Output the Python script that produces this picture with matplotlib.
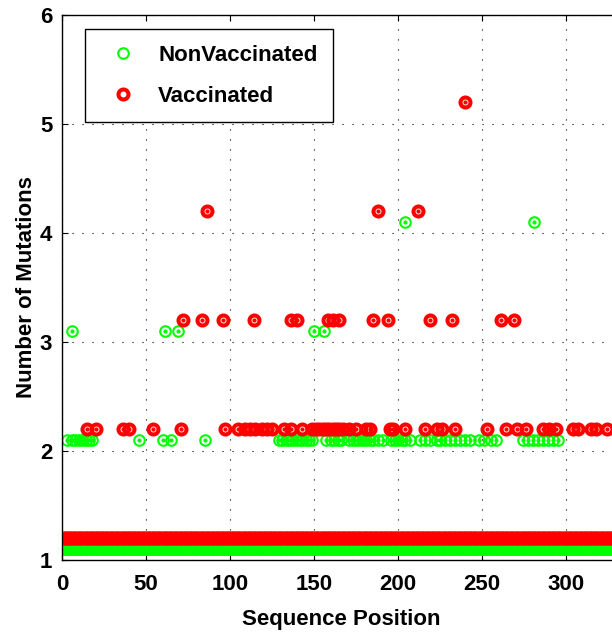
import numpy as np
import matplotlib
matplotlib.use('Agg')
import matplotlib.pyplot as plt
from matplotlib.lines import Line2D

plt.rcParams['font.family'] = ['Liberation Sans', 'DejaVu Sans']
plt.rcParams['font.weight'] = 'bold'
plt.rcParams['font.size'] = 16

# every position carries at least one mutation in both groups
seq_length = 332

# positions with more than one mutation, per mutation count
nonvacc_pos_2 = [3, 6, 8, 10, 12, 14, 16, 18, 46, 60, 65, 85, 129, 131, 133, 135, 137,
                 139, 141, 143, 145, 147, 149, 157, 160, 162, 164, 166, 171, 173, 175,
                 177, 179, 181, 183, 185, 188, 191, 196, 198, 200, 202, 204, 207, 213,
                 216, 219, 223, 225, 228, 231, 234, 237, 240, 243, 248, 251, 255, 258,
                 274, 277, 280, 283, 286, 289, 292, 295]
nonvacc_pos_3 = [6, 61, 69, 150, 156]
nonvacc_pos_4 = [204, 281]

vacc_pos_2 = [15, 20, 36, 40, 54, 71, 97, 105, 109, 112, 115, 119, 122, 125, 132, 136,
              143, 149, 151, 153, 155, 157, 159, 161, 163, 165, 167, 171, 175, 181, 183,
              195, 197, 204, 216, 223, 226, 234, 253, 264, 271, 276, 286, 290, 294, 304,
              307, 315, 318, 324]
vacc_pos_3 = [72, 83, 96, 114, 136, 140, 158, 161, 165, 185, 194, 219, 232, 261, 269]
vacc_pos_4 = [86, 188, 212]
vacc_pos_5 = [240]

green = '#00ff00'
red = '#ff0000'


def stack(levels, offset):
    xs, ys = [], []
    for count, pos in levels:
        xs.extend(pos)
        ys.extend([count + offset] * len(pos))
    return np.array(xs), np.array(ys)


all_pos = list(range(1, seq_length + 1))
nv_x, nv_y = stack([(1, all_pos), (2, nonvacc_pos_2), (3, nonvacc_pos_3),
                    (4, nonvacc_pos_4)], 0.1)
v_x, v_y = stack([(1, all_pos), (2, vacc_pos_2), (3, vacc_pos_3),
                  (4, vacc_pos_4), (5, vacc_pos_5)], 0.2)

fig = plt.figure(figsize=(6.12, 6.32), dpi=100)
ax = fig.add_axes([62 / 612, 72 / 632, 558 / 612, 545 / 632])

ax.plot(nv_x, nv_y, 'o', ls='none', mfc='none', mec=green, mew=1.5, ms=7.6)
ax.plot(nv_x, nv_y, 'o', ls='none', color=green, ms=2.0)
ax.plot(v_x, v_y, 'o', ls='none', mfc='none', mec=red, mew=2.9, ms=7.2)
ax.plot(v_x, v_y, 'o', ls='none', color=red, ms=2.0)

ax.set_xlim(0, seq_length)
ax.set_ylim(1, 6)
ax.set_xticks([0, 50, 100, 150, 200, 250, 300])
ax.set_yticks([1, 2, 3, 4, 5, 6])
ax.grid(True, color='black', linestyle=(0, (1, 8)), linewidth=0.8)
ax.tick_params(direction='in', length=4, width=0.8, top=True, right=True,
               labelsize=16, pad=7)
ax.tick_params(axis='x', pad=10)
for side in ax.spines.values():
    side.set_linewidth(1.0)

ax.set_xlabel('Sequence Position', fontsize=16, fontweight='bold', labelpad=10)
ax.set_ylabel('Number of Mutations', fontsize=16, fontweight='bold', labelpad=2)

handles = [Line2D([], [], ls='none', marker='o', mfc='none', mec=green, mew=1.5, ms=7.6),
           Line2D([], [], ls='none', marker='o', mfc='none', mec=red, mew=2.9, ms=7.2)]
leg = ax.legend(handles, ['NonVaccinated', 'Vaccinated'], loc='upper left',
                bbox_to_anchor=(0.041, 0.974), borderaxespad=0, fancybox=False,
                framealpha=1, edgecolor='black', borderpad=0.7, labelspacing=0.9,
                handletextpad=0.6, prop={'weight': 'bold', 'size': 16})
leg.get_frame().set_linewidth(1.0)

fig.savefig('out.png', dpi=100)
